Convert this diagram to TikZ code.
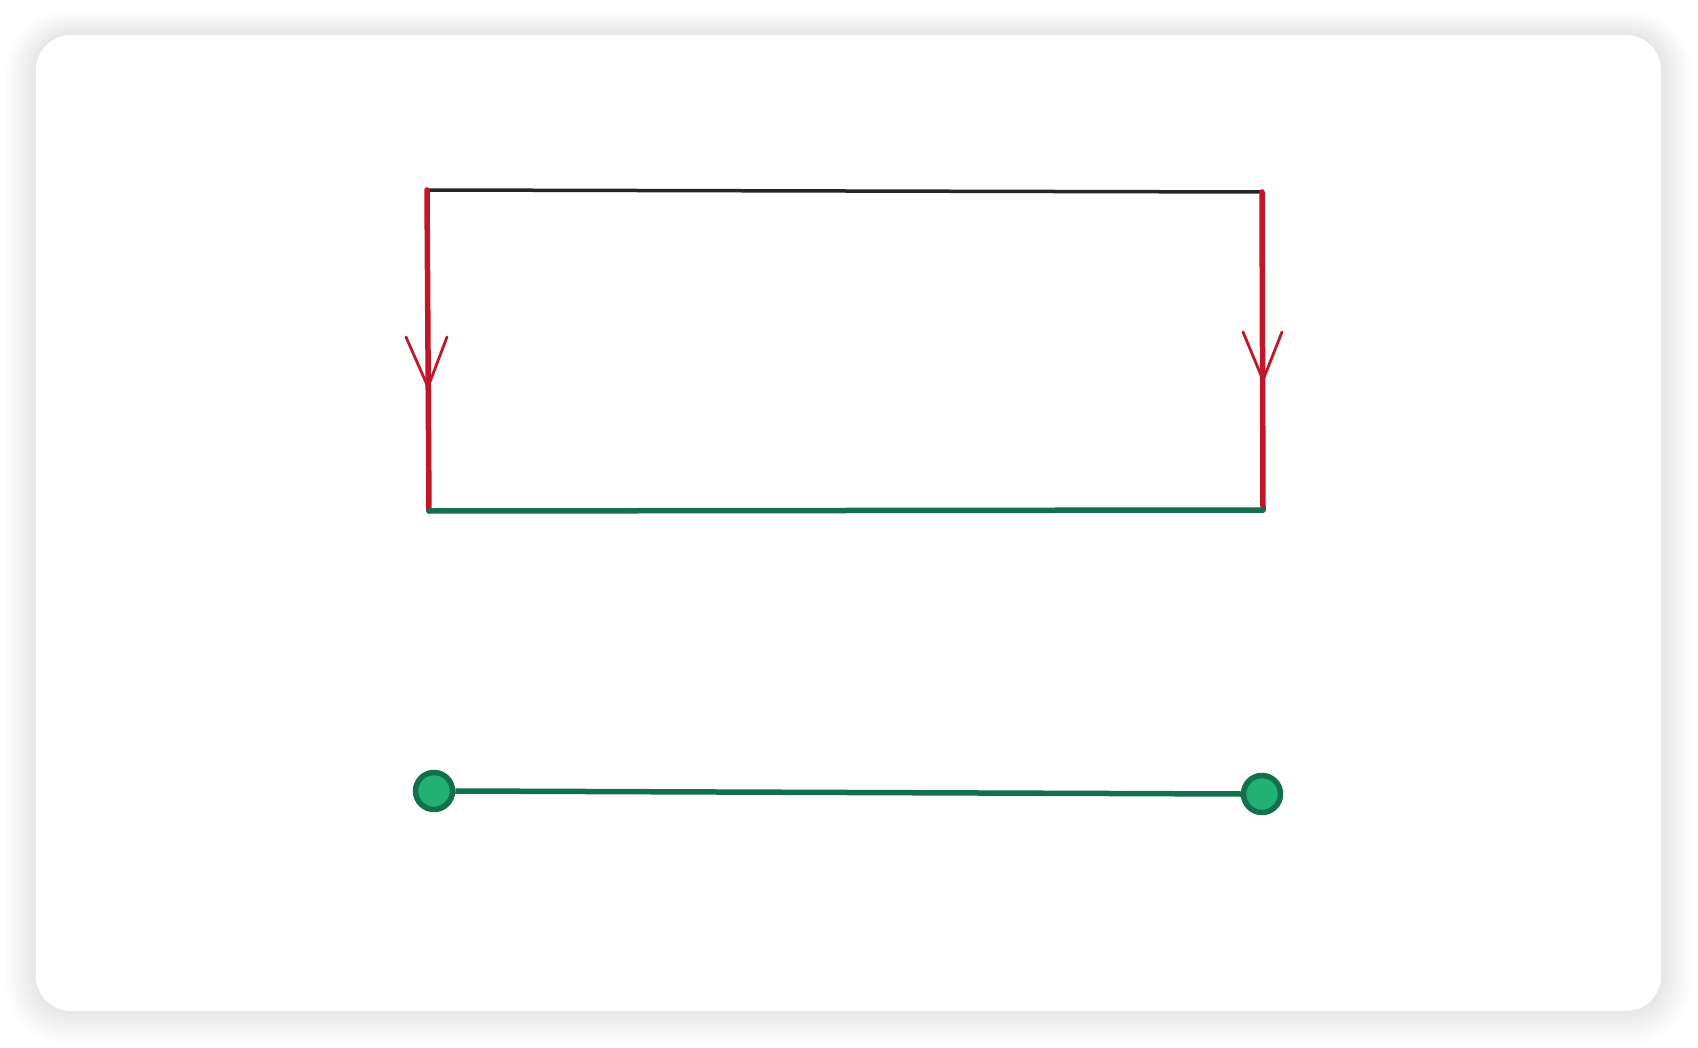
\documentclass[tikz,border=0pt]{standalone}
\definecolor{redline}{RGB}{192,24,40}
\definecolor{greenline}{RGB}{18,112,76}
\definecolor{greenfill}{RGB}{34,176,115}
\tikzset{
  rededge/.style={draw=redline, line width=5.5pt, line cap=round},
  redwing/.style={draw=redline, line width=2.8pt, line cap=round},
  blackedge/.style={draw=black!85, line width=3.5pt, line cap=round},
  greenedge/.style={draw=greenline, line width=5.5pt, line cap=round},
  dotnode/.style={circle, draw=greenline, fill=greenfill, line width=5.5pt, minimum size=37pt, inner sep=0pt},
}
\begin{document}
\begin{tikzpicture}[x=1pt,y=-1pt]
\useasboundingbox (0,0) rectangle (1698,1048);
% shadow
\foreach \i in {1,...,24}{
  \fill[black, opacity=0.0055, rounded corners={35+\i*1.2}]
    (36-\i*1.3,35-\i*1.0) rectangle (1661+\i*1.3,1011+\i*1.4);
}
\fill[white, rounded corners=35] (36,35) rectangle (1661,1011);
% corners
\coordinate (tl) at (427,190);
\coordinate (tr) at (1262,192);
\coordinate (bl) at (429,511);
\coordinate (br) at (1263,510);
% top edge
\draw[blackedge] (tl) -- (tr);
% left / right edges
\draw[rededge] (tl) -- (bl);
\draw[rededge] (tr) -- (br);
% arrow heads
\coordinate (la) at (428,387);
\coordinate (lw1) at (406,337);
\coordinate (lw2) at (447,337);
\draw[redwing] (lw1) -- (la) -- (lw2);
\coordinate (ra) at (1263,380);
\coordinate (rw1) at (1243,332);
\coordinate (rw2) at (1282,332);
\draw[redwing] (rw1) -- (ra) -- (rw2);
% bottom edge
\draw[greenedge] (bl) -- (br);
% segment with dots
\node[dotnode] (d1) at (434,791) {};
\node[dotnode] (d2) at (1262,794) {};
\draw[greenedge, line cap=butt] (d1.east) -- (d2.west);
\end{tikzpicture}
\end{document}
